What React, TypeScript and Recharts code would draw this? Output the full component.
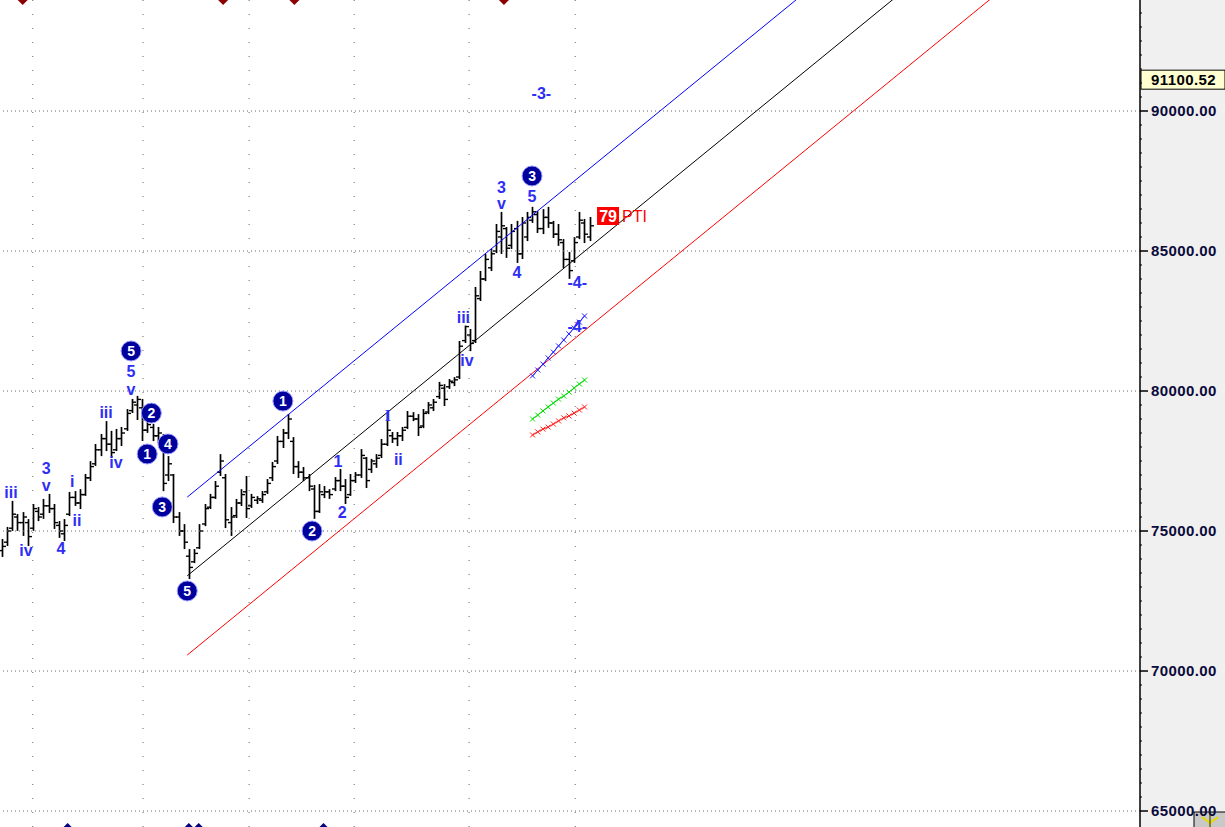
import React from 'react';
import {
  ComposedChart,
  Bar,
  Line,
  XAxis,
  YAxis,
  ReferenceLine,
  ReferenceDot
} from 'recharts';

// daily OHLC, one entry per trading day
const openP = [
  74300, 74600, 75100, 75500, 75300, 75300, 75100, 75700, 75600, 75900,
  75800, 75200, 74900, 75600, 76200, 76000, 76300, 76900, 77400, 77900,
  78300, 78100, 77900, 78300, 78650, 79300, 79500, 79400, 78600, 78700,
  78400, 78300, 77000, 77000, 75500, 75000, 74100, 73900, 74400, 75250,
  75850, 76200, 77100, 76900, 75300, 75550, 76000, 76400, 75900, 76100,
  76100, 76400, 76900, 77500, 78200, 78500, 78200, 77300, 77100, 76900,
  76500, 75700, 76300, 76400, 76500, 76800, 76600, 76300, 76800, 77000,
  77600, 77200, 77400, 77700, 78100, 78400, 78300, 78400, 78700, 79100,
  79000, 78750, 79250, 79400, 79800, 80100, 80150, 80300, 80500, 81800,
  82000, 81800, 83300, 84000, 84400, 85000, 85500, 85800, 85200, 85800,
  84900, 85500, 86100, 86300, 85800, 86200, 86000, 85600, 85300, 84700,
  84650, 85500, 86000, 85500
];
const highP = [
  74680, 75110, 76040, 75570, 75640, 75390, 75930, 75820, 76110, 76290,
  75930, 75320, 75390, 76360, 76390, 76460, 77000, 77460, 78070, 78430,
  78890, 78540, 78610, 78680, 79320, 79680, 79790, 79680, 79140, 78790,
  78680, 78430, 77640, 77000, 75640, 75210, 74320, 74320, 75210, 75930,
  76290, 76750, 77710, 77000, 75820, 76110, 76460, 76930, 76290, 76210,
  76390, 76820, 77430, 78360, 78610, 79140, 78320, 77460, 77250, 77000,
  76610, 76640, 76570, 76460, 76890, 77180, 76820, 77000, 77070, 77890,
  77610, 77540, 77710, 78250, 79200, 78500, 78500, 78680, 79250, 79210,
  79140, 79320, 79570, 79680, 80290, 80210, 80390, 80460, 81750, 82300,
  82180, 83680, 84250, 84860, 85040, 85930, 86360, 85820, 85930, 86040,
  86180, 86360, 86540, 86390, 86460, 86540, 86040, 85930, 85390, 84930,
  85460, 86360, 86110, 86180
];
const lowP = [
  74110, 74500, 75040, 75040, 74860, 74500, 75040, 75390, 75470, 75680,
  75110, 74790, 74680, 75570, 75930, 75820, 76290, 76820, 77360, 77710,
  77890, 77640, 77890, 78070, 78610, 79250, 79000, 78250, 78540, 78250,
  78180, 76460, 76820, 75320, 74860, 74390, 73320, 73890, 74390, 75210,
  75820, 76180, 77000, 75140, 74860, 75500, 75930, 75500, 75860, 76000,
  76040, 76360, 76820, 77430, 78000, 78320, 77070, 76930, 76820, 76460,
  75470, 75680, 76210, 76180, 76460, 76460, 76000, 76290, 76750, 76930,
  76570, 77110, 77290, 77640, 78070, 78180, 78070, 78250, 78680, 78960,
  78430, 78710, 79210, 79320, 79750, 79500, 80110, 80210, 80460, 81750,
  81460, 81750, 83250, 83960, 84320, 84960, 84930, 84790, 85110, 84610,
  84750, 85390, 86040, 85680, 85640, 85860, 85500, 85220, 84430, 84040,
  84610, 85460, 85320, 85390
];
const closeP = [
  74450, 75000, 75600, 75300, 75500, 74800, 75800, 75500, 75900, 75800,
  75300, 75000, 75200, 76200, 76000, 76300, 76900, 77300, 77900, 78300,
  78100, 77800, 78300, 78500, 79200, 79600, 79700, 78600, 78800, 78400,
  78500, 76700, 77400, 75500, 75000, 74600, 73700, 74200, 75000, 75800,
  76200, 76600, 77500, 75400, 75500, 76000, 76300, 75800, 76200, 76150,
  76300, 76700, 77300, 78200, 78500, 79000, 77300, 77100, 76900, 76600,
  75700, 76400, 76400, 76300, 76800, 76600, 76200, 76800, 77000, 77700,
  76800, 77500, 77600, 78100, 78600, 78300, 78400, 78600, 79100, 79000,
  78700, 79200, 79500, 79600, 80200, 79700, 80350, 80400, 81600, 82300,
  81700, 83400, 84000, 84700, 84900, 85700, 85900, 85100, 85700, 84900,
  86000, 86200, 86400, 85800, 86200, 86000, 85600, 85400, 84700, 84300,
  85300, 86100, 85600, 85900
];

// projection lines, starting at bar 102
const projStart = 102;
const projBlue = [80540, 80750, 80960, 81180, 81390, 81610, 81820, 82040, 82250, 82460, 82680];
const projGreen = [79000, 79140, 79290, 79430, 79570, 79710, 79820, 79960, 80110, 80250, 80390];
const projRed = [78430, 78540, 78640, 78710, 78820, 78930, 79040, 79110, 79210, 79320, 79430];

// channel (bar index, price) end points
const channelX = [35.6, 218.8];
const channelUpper = [76210, 104000];
const channelMid = [73400, 101190];
const channelLower = [70570, 98360];

const monthBreaks = [5.9, 27.1, 47.5, 67.7, 89.8, 110.2];
const gridPrices = [65000, 70000, 75000, 80000, 85000, 90000];
const axisTicks = Array.from({ length: 58 }, (_, k) => 65000 + k * 500);
const lastPrice = 91100.52;

const waveLabels = [
  { text: 'iii', at: 1.7, price: 76390 },
  { text: 'iv', at: 4.6, price: 74320 },
  { text: '3', at: 8.5, price: 77250 },
  { text: 'v', at: 8.5, price: 76640 },
  { text: '4', at: 11.3, price: 74390 },
  { text: 'i', at: 13.5, price: 76790 },
  { text: 'ii', at: 14.4, price: 75390 },
  { text: 'iii', at: 20, price: 79250 },
  { text: 'iv', at: 21.9, price: 77460 },
  { text: '5', at: 24.8, price: 80710 },
  { text: 'v', at: 24.8, price: 80070 },
  { text: '1', at: 64.6, price: 77500 },
  { text: '2', at: 65.4, price: 75680 },
  { text: 'I', at: 74.2, price: 79140 },
  { text: 'ii', at: 76.2, price: 77570 },
  { text: 'iii', at: 88.7, price: 82640 },
  { text: 'iv', at: 89.4, price: 81110 },
  { text: '3', at: 96, price: 87290 },
  { text: 'v', at: 96, price: 86710 },
  { text: '5', at: 101.9, price: 86960 },
  { text: '4', at: 99, price: 84250 },
  { text: '-4-', at: 110.6, price: 83890 },
  { text: '-4-', at: 110.6, price: 82320 },
  { text: '-3-', at: 103.7, price: 90640 }
];

const circledLabels = [
  { text: '5', at: 24.8, price: 81430 },
  { text: '2', at: 28.7, price: 79210 },
  { text: '4', at: 31.9, price: 78110 },
  { text: '1', at: 27.9, price: 77750 },
  { text: '3', at: 30.8, price: 75860 },
  { text: '5', at: 35.6, price: 72860 },
  { text: '1', at: 54.0, price: 79640 },
  { text: '2', at: 59.6, price: 75000 },
  { text: '3', at: 101.9, price: 87680 }
];

const topMarks = [3.96, 42.5, 56.2, 96.5];
const bottomMarks = [12.6, 35.9, 37.8, 61.8];
const Y_MIN = 64429;
const Y_MAX = 93964;

const data = openP.map((o, i) => {
  const k = i - projStart;
  return {
    t: i,
    range: [lowP[i], highP[i]],
    open: o,
    high: highP[i],
    low: lowP[i],
    close: closeP[i],
    blue: k >= 0 ? projBlue[k] : undefined,
    green: k >= 0 ? projGreen[k] : undefined,
    red: k >= 0 ? projRed[k] : undefined
  };
});

const OhlcShape = (props: any) => {
  const { x, y, width, height, payload } = props;
  if (x == null || y == null || !payload) return null;
  const top = Math.min(y, y + height);
  const h = Math.abs(height);
  const cx = Math.round(x + width / 2) + 0.5;
  const span = payload.high - payload.low || 1;
  const yOf = (v: number) => top + ((payload.high - v) / span) * h;
  return (
    <g stroke="#000" strokeWidth={1.7}>
      <line x1={cx} x2={cx} y1={top - 1} y2={top + h + 1} />
      <line x1={cx - 3.5} x2={cx} y1={yOf(payload.open)} y2={yOf(payload.open)} strokeWidth={1.4} />
      <line x1={cx} x2={cx + 3.5} y1={yOf(payload.close)} y2={yOf(payload.close)} strokeWidth={1.4} />
    </g>
  );
};

const crossDot = (color: string) => (p: any) => {
  const { cx, cy, value, index } = p;
  if (cx == null || cy == null || value == null) return <g key={`n${index}`} />;
  return (
    <path
      key={`c${index}`}
      d={`M${cx - 2.5},${cy - 2.5}L${cx + 2.5},${cy + 2.5}M${cx - 2.5},${cy + 2.5}L${cx + 2.5},${cy - 2.5}`}
      stroke={color}
      strokeWidth={1}
    />
  );
};

const PriceTick = (props: any) => {
  const { x, y, payload } = props;
  const v = payload.value;
  if (v % 5000 === 0) {
    return (
      <g>
        <line x1={x} x2={x + 8} y1={y} y2={y} stroke="#000" strokeWidth={1.5} />
        <text
          x={x + 11}
          y={y}
          dy={5}
          fontSize={15}
          fontWeight="bold"
          letterSpacing={0.4}
          fill="#0a0a3a"
          fontFamily="'Liberation Sans', Arial, sans-serif"
        >
          {v.toFixed(2)}
        </text>
      </g>
    );
  }
  return <line x1={x} x2={x + 2} y1={y} y2={y} stroke="#000" />;
};

export default function App() {
  const font = "'Liberation Sans', Arial, sans-serif";
  return (
    <div
      style={{
        position: 'absolute',
        left: 0,
        top: 0,
        width: 1225,
        height: 827,
        background: 'linear-gradient(to right, #ffffff 1140px, #f0f0f0 1140px)'
      }}
    >
      <ComposedChart
        width={1225}
        height={827}
        data={data}
        margin={{ top: 0, right: 0, left: 0, bottom: 0 }}
        style={{ fontFamily: font }}
      >
        <XAxis type="number" dataKey="t" domain={[-0.4, 218.8]} allowDataOverflow hide />
        <YAxis
          orientation="right"
          width={85}
          domain={[Y_MIN, Y_MAX]}
          allowDataOverflow
          ticks={axisTicks}
          interval={0}
          tickLine={false}
          tickSize={0}
          tickMargin={0}
          axisLine={{ stroke: '#000', strokeWidth: 1.5 }}
          tick={PriceTick}
        />

        {gridPrices.map((p) => (
          <ReferenceLine key={`h${p}`} y={p} stroke="#666" strokeDasharray="1 3" />
        ))}
        {monthBreaks.map((m) => (
          <ReferenceLine key={`v${m}`} x={m} stroke="#666" strokeDasharray="1 13" />
        ))}

        <ReferenceLine
          segment={[{ x: channelX[0], y: channelUpper[0] }, { x: channelX[1], y: channelUpper[1] }]}
          stroke="#0000ff"
          ifOverflow="hidden"
        />
        <ReferenceLine
          segment={[{ x: channelX[0], y: channelMid[0] }, { x: channelX[1], y: channelMid[1] }]}
          stroke="#000"
          ifOverflow="hidden"
        />
        <ReferenceLine
          segment={[{ x: channelX[0], y: channelLower[0] }, { x: channelX[1], y: channelLower[1] }]}
          stroke="#ff0000"
          ifOverflow="hidden"
        />

        <Bar dataKey="range" barSize={6} shape={OhlcShape} isAnimationActive={false} />

        <Line dataKey="blue" stroke="#2020ff" strokeWidth={1} dot={crossDot('#2020ff')} activeDot={false} isAnimationActive={false} />
        <Line dataKey="green" stroke="#00dd00" strokeWidth={1} dot={crossDot('#00dd00')} activeDot={false} isAnimationActive={false} />
        <Line dataKey="red" stroke="#ff2020" strokeWidth={1} dot={crossDot('#ff2020')} activeDot={false} isAnimationActive={false} />

        {waveLabels.map((w, i) => (
          <ReferenceDot
            key={`w${i}`}
            x={w.at}
            y={w.price}
            ifOverflow="visible"
            shape={(p: any) => (
              <text
                x={p.cx}
                y={p.cy}
                dy={6}
                textAnchor="middle"
                fontSize={16}
                fontWeight="bold"
                fill="#2e2ef5"
                fontFamily={w.text === 'I' ? "'Liberation Serif', serif" : font}
              >
                {w.text}
              </text>
            )}
          />
        ))}

        {circledLabels.map((c, i) => (
          <ReferenceDot
            key={`c${i}`}
            x={c.at}
            y={c.price}
            ifOverflow="visible"
            shape={(p: any) => (
              <g>
                <circle cx={p.cx} cy={p.cy} r={10} fill="#00009c" stroke="#9a9aff" strokeWidth={1} />
                <text
                  x={p.cx}
                  y={p.cy}
                  dy={5}
                  textAnchor="middle"
                  fontSize={14}
                  fontWeight="bold"
                  fill="#fff"
                  fontFamily={font}
                >
                  {c.text}
                </text>
              </g>
            )}
          />
        ))}

        {topMarks.map((m) => (
          <ReferenceDot
            key={`t${m}`}
            x={m}
            y={Y_MAX}
            ifOverflow="visible"
            shape={(p: any) => (
              <path d={`M${p.cx - 6},${p.cy - 1}L${p.cx},${p.cy - 7}L${p.cx + 6},${p.cy - 1}L${p.cx},${p.cy + 5}Z`} fill="#8b0000" />
            )}
          />
        ))}
        {bottomMarks.map((m) => (
          <ReferenceDot
            key={`b${m}`}
            x={m}
            y={Y_MIN}
            ifOverflow="visible"
            shape={(p: any) => (
              <path d={`M${p.cx - 6},${p.cy + 2}L${p.cx},${p.cy - 4}L${p.cx + 6},${p.cy + 2}L${p.cx},${p.cy + 8}Z`} fill="#000080" />
            )}
          />
        ))}

        <ReferenceDot
          x={114.4}
          y={86250}
          ifOverflow="visible"
          shape={(p: any) => (
            <g>
              <rect x={p.cx} y={p.cy - 9} width={22} height={18} fill="#ff0000" />
              <text x={p.cx + 11} y={p.cy} dy={6} textAnchor="middle" fontSize={16} fontWeight="bold" fill="#fff" fontFamily={font}>
                79
              </text>
              <text x={p.cx + 25} y={p.cy} dy={6} fontSize={16} fill="#ff0000" fontFamily={font}>
                PTI
              </text>
            </g>
          )}
        />

        <ReferenceDot
          x={218.8}
          y={lastPrice}
          ifOverflow="visible"
          shape={(p: any) => (
            <g>
              <rect x={p.cx + 1} y={p.cy - 10} width={84} height={19} fill="#ffffd2" stroke="#000" strokeWidth={1} />
              <text x={p.cx + 11} y={p.cy} dy={5} fontSize={15} fontWeight="bold" letterSpacing={0.4} fill="#000" fontFamily={font}>
                {lastPrice.toFixed(2)}
              </text>
            </g>
          )}
        />

        <ReferenceDot
          x={218.8}
          y={Y_MIN}
          ifOverflow="visible"
          shape={(p: any) => (
            <g>
              <rect x={p.cx + 54} y={p.cy - 15} width={32} height={16} fill="#c8c8c8" stroke="#000" strokeWidth={1} />
              <path d={`M${p.cx + 62},${p.cy - 10}L${p.cx + 70},${p.cy - 4}L${p.cx + 78},${p.cy - 10}`} stroke="#e8d800" strokeWidth={2} fill="none" />
              <path d={`M${p.cx + 70},${p.cy - 13}L${p.cx + 70},${p.cy}`} stroke="#6a6a00" strokeWidth={1.5} />
            </g>
          )}
        />
      </ComposedChart>
    </div>
  );
}
